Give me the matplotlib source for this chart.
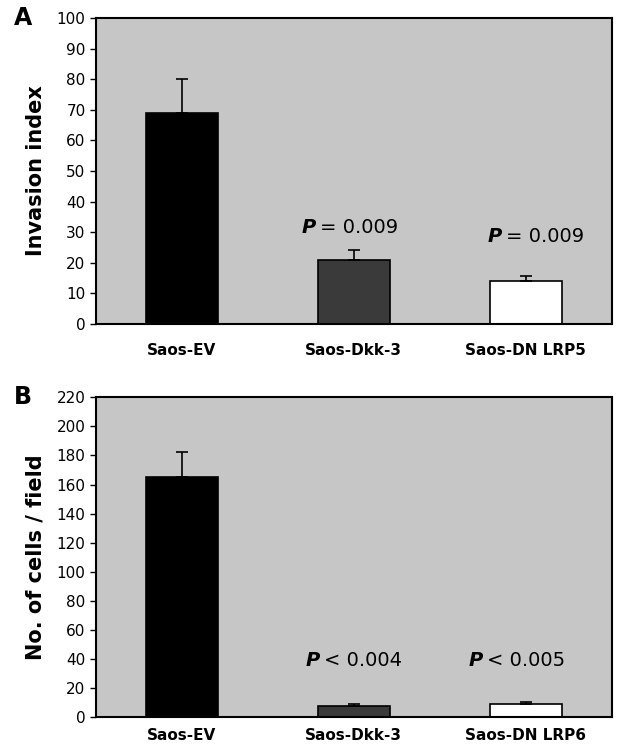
import matplotlib
matplotlib.use("Agg")
import matplotlib.pyplot as plt
import matplotlib.transforms as mtransforms
import numpy as np

groups_a = ["Saos-EV", "Saos-Dkk-3", "Saos-DN LRP5"]
groups_b = ["Saos-EV", "Saos-Dkk-3", "Saos-DN LRP6"]
invasion = [69, 21, 14]
invasion_err = [11, 3, 1.5]
cells = [165, 7.5, 9]
cells_err = [17, 2, 1.5]
pvals_a = ["= 0.009", "= 0.009"]
pvals_b = ["< 0.004", "< 0.005"]

bar_colors = ["black", "#3a3a3a", "white"]
bg = "#c6c6c6"

fig = plt.figure(figsize=(6.23, 7.48), dpi=100)
axA = fig.add_axes([0.154, 0.567, 0.828, 0.409])
axB = fig.add_axes([0.154, 0.041, 0.828, 0.428])

x = np.arange(3)


def panel(ax, vals, errs, labels, ymax, step, ylabel, letter, pvals, ppos, pad):
    ax.set_facecolor(bg)
    ax.bar(x, vals, width=0.42, color=bar_colors, edgecolor="black", linewidth=1.2, zorder=2)
    ax.errorbar(x, vals, yerr=[np.zeros(3), errs], fmt="none", ecolor="black",
                elinewidth=1.2, capsize=4, capthick=1.2, zorder=3)
    ax.set_xlim(-0.5, 2.5)
    ax.set_ylim(0, ymax)
    ax.set_yticks(np.arange(0, ymax + 1, step))
    ax.set_xticks(x)
    ax.set_xticklabels(labels, fontsize=11, fontweight="bold")
    ax.tick_params(axis="x", length=0, pad=pad)
    ax.tick_params(axis="y", labelsize=11, length=4, width=1)
    for s in ax.spines.values():
        s.set_linewidth(1.5)
    ax.set_ylabel(ylabel, fontsize=15, fontweight="bold", labelpad=8)
    ax.text(-0.16, 1.0, letter, transform=ax.transAxes, fontsize=17,
            fontweight="bold", va="center", ha="left")
    for (px, py), txt in zip(ppos, pvals):
        ax.text(px, py, "P", fontsize=14, fontstyle="italic", fontweight="bold",
                ha="right", va="center")
        tr = mtransforms.offset_copy(ax.transData, fig=fig, x=3, y=0, units="points")
        ax.text(px, py, txt, fontsize=14, ha="left", va="center", transform=tr)


panel(axA, invasion, invasion_err, groups_a, 100, 10, "Invasion index", "A",
      pvals_a, [(0.78, 31.5), (1.86, 28.5)], 14)
panel(axB, cells, cells_err, groups_b, 220, 20, "No. of cells / field", "B",
      pvals_b, [(0.80, 39), (1.75, 39)], 8)

fig.savefig("out.png", dpi=100)
